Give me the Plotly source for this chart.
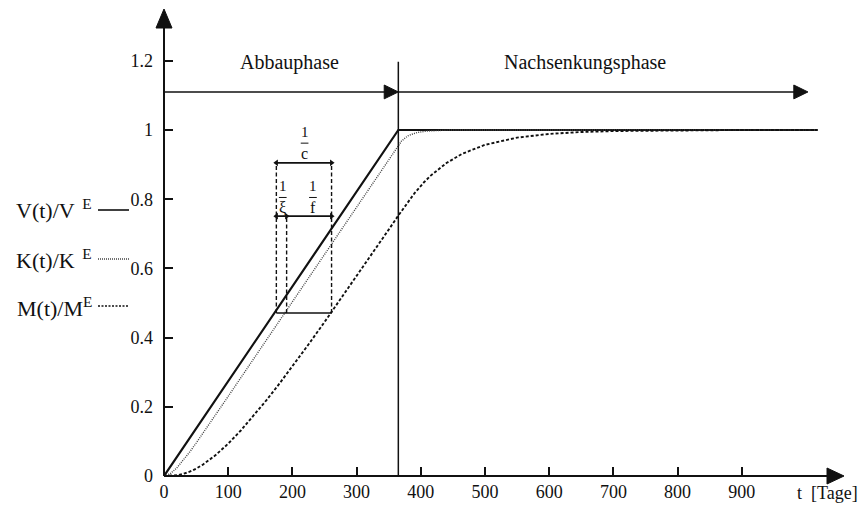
import plotly.graph_objects as go

# ---- data -------------------------------------------------------------
# V(t)/V^E : linear build-up until the end of the Abbauphase, then constant
t_v = [0, 365, 1018]
v_rel = [0, 1.0, 1.0]

# K(t)/K^E : follows V with a short lag
t_k = [0, 10, 20, 30, 40, 50, 60, 80, 100, 150, 200, 250, 300, 365,
       370, 375, 380, 385, 395, 410, 425, 445, 500, 1018]
k_rel = [0, 0.007, 0.0235, 0.0451, 0.0693, 0.0951, 0.1216, 0.1756, 0.2302,
         0.367, 0.504, 0.641, 0.778, 0.956,
         0.968, 0.976, 0.983, 0.987, 0.993, 0.997, 0.999, 1.0, 1.0, 1.0]

# M(t)/M^E : follows with a long lag, settles in the Nachsenkungsphase
t_m = [0, 10, 20, 30, 40, 50, 60, 80, 100, 120, 140, 160, 180, 200, 225,
       250, 275, 300, 325, 350, 365, 375, 390, 405, 415, 440, 465, 500,
       550, 600, 650, 700, 800, 900, 1018]
m_rel = [0, 0.0003, 0.0021, 0.0061, 0.0125, 0.0213, 0.0321, 0.0597, 0.0935,
         0.1322, 0.1746, 0.2200, 0.2675, 0.3168, 0.3801, 0.4449, 0.5108,
         0.5774, 0.6445, 0.7121, 0.7527, 0.7795, 0.8168, 0.849, 0.8674,
         0.9047, 0.9317, 0.9572, 0.978, 0.9887, 0.9942, 0.997, 0.9992,
         1.0, 1.0]

x_ticks = [0, 100, 200, 300, 400, 500, 600, 700, 800, 900]
y_ticks = [0, 0.2, 0.4, 0.6, 0.8, 1.0, 1.2]
y_tick_text = ["0", "0.2", "0.4", "0.6", "0.8", "1", "1.2"]

phase_names = ["Abbauphase", "Nachsenkungsphase"]
phase_end = 365          # Tage
phase_arrow_y = 1.11
run_end = 1003

# lag construction (1/xi, 1/f, 1/c)
lag_left, lag_mid, lag_right = 175, 191, 261
lag_base = 0.471
bracket_c = 0.905
bracket_xf = 0.751

# ---- geometry helpers (pixel -> paper) ---------------------------------
L, R, T, B = 164, 4, 0, 35
W, H = 861, 511
PW, PH = W - L - R, H - T - B
X_PER_DAY = 0.642
Y_PER_UNIT = 346.0
X_MAX = PW / X_PER_DAY
Y_MAX = PH / Y_PER_UNIT


def px_x(p):
    return (p - L) / PW


def px_y(p):
    return (H - B - p) / PH


FONT = "Liberation Serif, Times New Roman, serif"
BLACK = "#111111"

fig = go.Figure()

fig.add_trace(go.Scatter(x=t_v, y=v_rel, mode="lines",
                         line=dict(color=BLACK, width=2.2), hoverinfo="skip"))
fig.add_trace(go.Scatter(x=t_k, y=k_rel, mode="lines",
                         line=dict(color="#444444", width=1.4, dash="1px,1.2px"),
                         hoverinfo="skip"))
fig.add_trace(go.Scatter(x=t_m, y=m_rel, mode="lines",
                         line=dict(color=BLACK, width=1.9, dash="3px,2px"),
                         hoverinfo="skip"))

shapes = []
ann = []

# axes with arrow heads (paper coordinates, so nothing is clipped)
shapes.append(dict(type="line", xref="paper", yref="paper", x0=0, y0=0,
                   x1=px_x(832), y1=0, line=dict(color=BLACK, width=2)))
shapes.append(dict(type="path", xref="paper", yref="paper",
                   path=f"M {px_x(827)} {px_y(468)} L {px_x(844)} {px_y(476)} "
                        f"L {px_x(827)} {px_y(484)} Z",
                   fillcolor=BLACK, line=dict(color=BLACK, width=1)))
shapes.append(dict(type="line", xref="paper", yref="paper", x0=0, y0=0,
                   x1=0, y1=px_y(24), line=dict(color=BLACK, width=2)))
shapes.append(dict(type="path", xref="paper", yref="paper",
                   path=f"M {px_x(156)} {px_y(28)} L {px_x(164)} {px_y(9)} "
                        f"L {px_x(172)} {px_y(28)} Z",
                   fillcolor=BLACK, line=dict(color=BLACK, width=1)))

# phase separator and phase arrows
shapes.append(dict(type="line", xref="x", yref="y", x0=phase_end, y0=0,
                   x1=phase_end, y1=1.197, line=dict(color=BLACK, width=1.5)))
shapes.append(dict(type="line", xref="x", yref="y", x0=0, y0=phase_arrow_y,
                   x1=phase_end - 10, y1=phase_arrow_y,
                   line=dict(color=BLACK, width=1.5)))
shapes.append(dict(type="path", xref="x", yref="y",
                   path=f"M {phase_end - 22} {phase_arrow_y - 0.02} L {phase_end} {phase_arrow_y} "
                        f"L {phase_end - 22} {phase_arrow_y + 0.02} Z",
                   fillcolor=BLACK, line=dict(color=BLACK, width=1)))
shapes.append(dict(type="line", xref="x", yref="y", x0=phase_end, y0=phase_arrow_y,
                   x1=run_end - 10, y1=phase_arrow_y,
                   line=dict(color=BLACK, width=1.5)))
shapes.append(dict(type="path", xref="x", yref="y",
                   path=f"M {run_end - 22} {phase_arrow_y - 0.02} L {run_end} {phase_arrow_y} "
                        f"L {run_end - 22} {phase_arrow_y + 0.02} Z",
                   fillcolor=BLACK, line=dict(color=BLACK, width=1)))

ann.append(dict(x=196, y=1.196, xref="x", yref="y", text=phase_names[0],
                showarrow=False, font=dict(size=20, family=FONT, color=BLACK)))
ann.append(dict(x=656, y=1.196, xref="x", yref="y", text=phase_names[1],
                showarrow=False, font=dict(size=20, family=FONT, color=BLACK)))

# lag construction
dash_line = dict(color=BLACK, width=1.4, dash="4px,2.5px")
shapes.append(dict(type="line", xref="x", yref="y", x0=lag_left, y0=lag_base,
                   x1=lag_left, y1=bracket_c, line=dash_line))
shapes.append(dict(type="line", xref="x", yref="y", x0=lag_mid, y0=lag_base,
                   x1=lag_mid, y1=bracket_xf, line=dash_line))
shapes.append(dict(type="line", xref="x", yref="y", x0=lag_right, y0=lag_base,
                   x1=lag_right, y1=bracket_c, line=dash_line))
for yy in (lag_base, bracket_xf, bracket_c):
    shapes.append(dict(type="line", xref="x", yref="y", x0=lag_left, y0=yy,
                       x1=lag_right, y1=yy, line=dict(color=BLACK, width=1.6)))

fig.add_trace(go.Scatter(
    x=[lag_left, lag_right, lag_left, lag_mid, lag_right],
    y=[bracket_c, bracket_c, bracket_xf, bracket_xf, bracket_xf],
    mode="markers",
    marker=dict(symbol=["triangle-left", "triangle-right", "triangle-left",
                        "triangle-right", "triangle-right"],
                size=6, color=BLACK),
    hoverinfo="skip"))


def fraction(xc, y_top, y_bar, y_bot, den, half=6):
    ann.append(dict(x=xc, y=y_top, xref="x", yref="y", text="1", showarrow=False,
                    font=dict(size=15, family=FONT, color=BLACK)))
    ann.append(dict(x=xc, y=y_bot, xref="x", yref="y", text=den, showarrow=False,
                    font=dict(size=16, family=FONT, color=BLACK)))
    shapes.append(dict(type="line", xref="x", yref="y", x0=xc - half, y0=y_bar,
                       x1=xc + half, y1=y_bar, line=dict(color=BLACK, width=1)))


fraction(219, 0.993, 0.962, 0.932, "c")
fraction(185, 0.838, 0.805, 0.775, "ξ")
fraction(232, 0.838, 0.805, 0.775, "f")

# curve labels on the left with line samples
labels = [("V(t)/V<sup>  E</sup>", 209, 210, dict(color=BLACK, width=1.6)),
          ("K(t)/K<sup>  E</sup>", 259, 259, dict(color="#444444", width=1.3, dash="1px,1px")),
          ("M(t)/M<sup>E</sup>", 307, 306, dict(color=BLACK, width=1.6, dash="2px,1.5px"))]
for txt, ty, ly, style in labels:
    ann.append(dict(x=px_x(94), y=px_y(ty), xref="paper", yref="paper", text=txt,
                    xanchor="right", yanchor="middle", showarrow=False,
                    font=dict(size=22, family=FONT, color=BLACK)))
    shapes.append(dict(type="line", xref="paper", yref="paper", x0=px_x(98),
                       y0=px_y(ly), x1=px_x(129), y1=px_y(ly), line=style))

ann.append(dict(x=px_x(860), y=px_y(493), xref="paper", yref="paper",
                text="t  [Tage]", xanchor="right", yanchor="middle", showarrow=False,
                font=dict(size=18, family=FONT, color=BLACK)))

fig.update_layout(
    width=W, height=H,
    margin=dict(l=L, r=R, t=T, b=B, pad=0),
    paper_bgcolor="white", plot_bgcolor="white",
    showlegend=False,
    shapes=shapes, annotations=ann,
    font=dict(family=FONT, size=18, color=BLACK),
    xaxis=dict(range=[0, X_MAX], showgrid=False, zeroline=False, showline=False,
               tickvals=x_ticks, ticktext=[str(v) for v in x_ticks],
               ticks="inside", ticklen=9, tickwidth=1.5, tickcolor=BLACK,
               ticklabelstandoff=3, fixedrange=True),
    yaxis=dict(range=[0, Y_MAX], showgrid=False, zeroline=False, showline=False,
               tickvals=y_ticks, ticktext=y_tick_text,
               ticks="inside", ticklen=9, tickwidth=1.5, tickcolor=BLACK,
               ticklabelstandoff=10, fixedrange=True),
)

fig.write_html("out.html", config={"displayModeBar": False})
